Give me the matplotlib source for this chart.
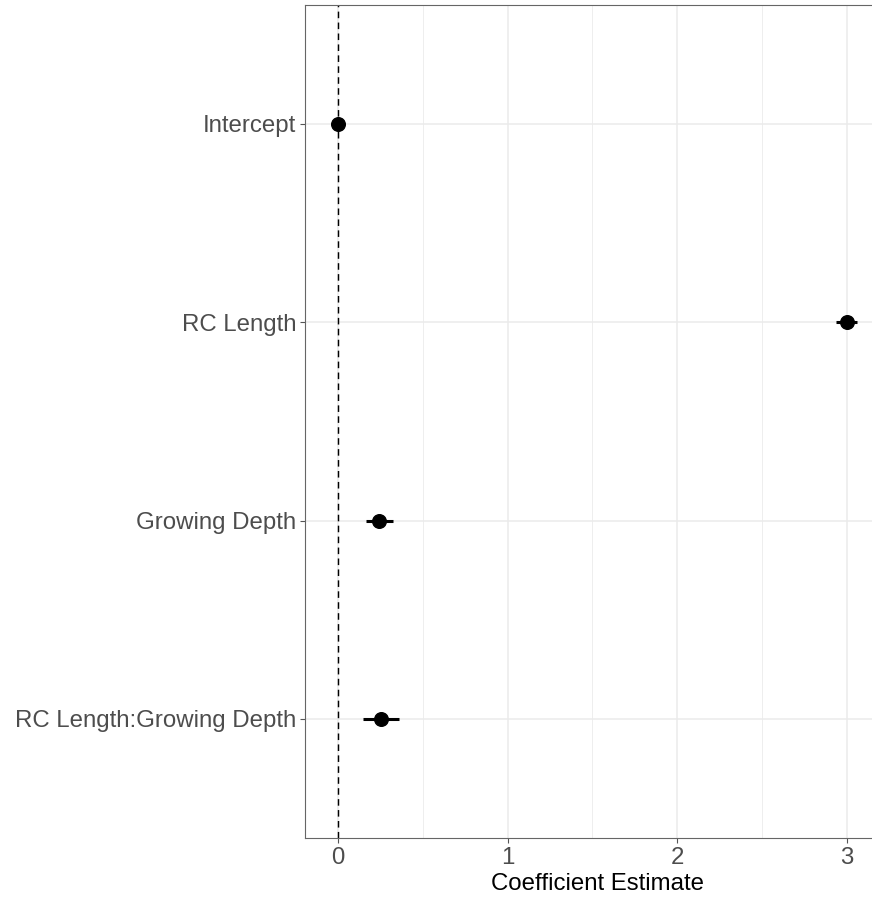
import matplotlib
matplotlib.use("Agg")
import matplotlib.pyplot as plt
from matplotlib.ticker import MultipleLocator

plt.rcParams['font.family'] = ['Liberation Sans', 'DejaVu Sans']

# coefficient estimates with interval bounds (top to bottom)
terms = ["Intercept", "RC Length", "Growing Depth", "RC Length:Growing Depth"]
estimate = [0.0, 3.0, 0.244, 0.252]
lower = [-0.01, 2.936, 0.165, 0.146]
upper = [0.01, 3.06, 0.324, 0.36]
x_ticks = [0, 1, 2, 3]

ypos = list(range(len(terms), 0, -1))

fig = plt.figure(figsize=(8.72, 8.98), dpi=100)
# panel runs past the right edge, as in the cropped original
ax = fig.add_axes([305 / 872, 60 / 898, 584 / 872, 833 / 898])

grid_col = "#EBEBEB"
ax.xaxis.set_major_locator(MultipleLocator(1))
ax.xaxis.set_minor_locator(MultipleLocator(0.5))
ax.grid(True, which="major", color=grid_col, lw=1.1, zorder=0)
ax.grid(True, which="minor", axis="x", color=grid_col, lw=0.6, zorder=0)
ax.set_axisbelow(True)

ax.axvline(0, color="black", lw=1.05, linestyle=(0, (4.5, 3)), zorder=2)

for y, est, lo, hi in zip(ypos, estimate, lower, upper):
    ax.plot([lo, hi], [y, y], color="black", lw=2.2, solid_capstyle="butt", zorder=3)
ax.plot(estimate, ypos, "o", color="black", ms=9.8, zorder=4)

ax.set_xlim(-0.195, 3.25)
ax.set_ylim(0.4, 4.6)
ax.set_xticks(x_ticks)
ax.set_xticklabels([str(t) for t in x_ticks])
ax.set_yticks(ypos)
ax.set_yticklabels(terms)

ax.tick_params(axis="both", which="major", colors="#555555", length=3.8, width=0.8,
               labelsize=17.3, labelcolor="#4D4D4D", pad=2.5)
ax.tick_params(axis="x", which="minor", length=0)

for s in ax.spines.values():
    s.set_color("#666666")
    s.set_linewidth(0.8)
ax.spines["right"].set_visible(False)

ax.set_xlabel("Coefficient Estimate", fontsize=17.3, color="black", labelpad=3)

fig.savefig("out.png", dpi=100)
